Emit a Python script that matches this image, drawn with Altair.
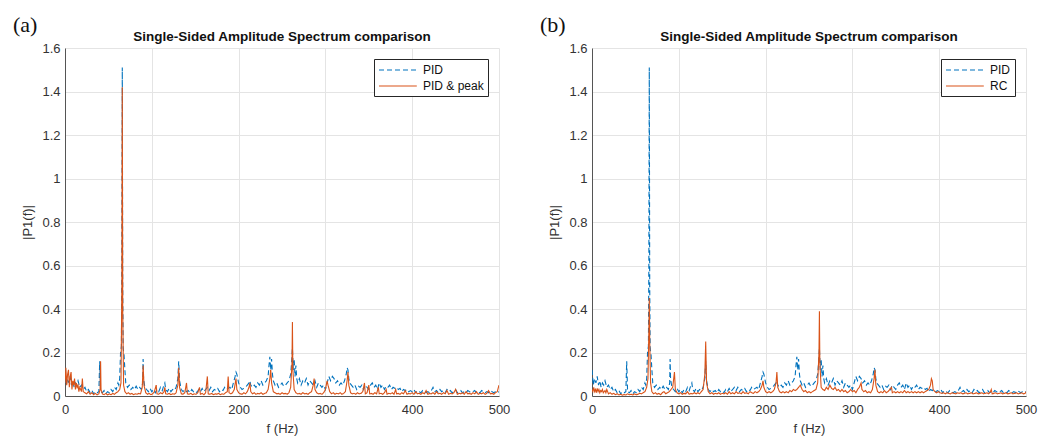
import altair as alt
import pandas as pd

# ---- data (frequency in Hz, amplitude |P1(f)|) ----
PID = [
    (0, 0.12), (1.5, 0.05), (3, 0.08), (4.5, 0.06), (6, 0.09), (7.5, 0.05), (9, 0.07), (10.5, 0.04),
    (12, 0.06), (13.5, 0.05), (15, 0.07), (17, 0.04), (19, 0.05), (21, 0.03), (23, 0.04), (25, 0.02),
    (27, 0.03), (29, 0.015), (31, 0.025), (33, 0.01), (35, 0.02), (37, 0.015), (39, 0.02), (40, 0.16),
    (41, 0.02), (43, 0.015), (45, 0.025), (47, 0.01), (49, 0.02), (51, 0.015), (53, 0.03), (55, 0.02),
    (57, 0.04), (59, 0.03), (61, 0.06), (62, 0.05), (63, 0.08), (64, 0.2), (65, 0.23), (65.5, 0.6),
    (66, 1.51), (66.5, 0.5), (67, 0.22), (68, 0.19), (69, 0.12), (70, 0.06), (72, 0.04), (74, 0.05),
    (76, 0.03), (78, 0.04), (80, 0.03), (82, 0.045), (84, 0.03), (86, 0.04), (88, 0.03), (89.5, 0.06),
    (90, 0.17), (90.5, 0.08), (92, 0.04), (94, 0.03), (96, 0.02), (98, 0.035), (100, 0.02), (102, 0.03),
    (104, 0.015), (106, 0.03), (108, 0.02), (110, 0.04), (112, 0.025), (114, 0.05), (115, 0.06), (116, 0.03),
    (118, 0.02), (120, 0.035), (122, 0.02), (124, 0.03), (126, 0.025), (128, 0.04), (130, 0.08), (131, 0.16),
    (132, 0.07), (134, 0.03), (136, 0.02), (138, 0.03), (140, 0.02), (142, 0.025), (144, 0.015), (146, 0.03),
    (148, 0.02), (150, 0.025), (152, 0.015), (154, 0.03), (156, 0.02), (158, 0.035), (160, 0.02), (162, 0.03),
    (164, 0.04), (166, 0.025), (168, 0.04), (170, 0.02), (172, 0.03), (174, 0.025), (176, 0.035), (178, 0.02),
    (180, 0.03), (182, 0.025), (184, 0.04), (186, 0.03), (188, 0.035), (190, 0.04), (192, 0.03), (194, 0.06),
    (196, 0.09), (197, 0.11), (198, 0.1), (200, 0.06), (202, 0.04), (204, 0.03), (206, 0.035), (208, 0.04),
    (210, 0.05), (212, 0.06), (213, 0.07), (214, 0.05), (216, 0.04), (218, 0.05), (220, 0.04), (222, 0.06),
    (224, 0.05), (226, 0.07), (228, 0.05), (230, 0.06), (232, 0.07), (234, 0.09), (235, 0.14), (236, 0.18),
    (237, 0.12), (238, 0.17), (239, 0.1), (240, 0.07), (242, 0.05), (244, 0.06), (246, 0.04), (248, 0.05),
    (250, 0.06), (252, 0.045), (254, 0.05), (256, 0.06), (258, 0.07), (260, 0.1), (261, 0.15), (262, 0.22),
    (263, 0.12), (264, 0.17), (265, 0.09), (266, 0.14), (267, 0.08), (268, 0.06), (270, 0.08), (272, 0.05),
    (274, 0.07), (276, 0.06), (278, 0.08), (280, 0.05), (282, 0.07), (284, 0.06), (286, 0.05), (288, 0.07),
    (290, 0.04), (292, 0.06), (294, 0.05), (296, 0.04), (298, 0.05), (300, 0.03), (302, 0.06), (304, 0.09),
    (306, 0.07), (308, 0.09), (310, 0.08), (312, 0.06), (314, 0.07), (316, 0.05), (318, 0.06), (320, 0.05),
    (322, 0.07), (324, 0.1), (325, 0.13), (326, 0.12), (327, 0.08), (328, 0.06), (330, 0.05), (332, 0.04),
    (334, 0.05), (336, 0.03), (338, 0.045), (340, 0.04), (342, 0.05), (344, 0.03), (346, 0.05), (348, 0.04),
    (350, 0.03), (352, 0.05), (354, 0.06), (356, 0.04), (358, 0.05), (360, 0.03), (362, 0.06), (364, 0.04),
    (366, 0.05), (368, 0.03), (370, 0.045), (372, 0.04), (374, 0.05), (376, 0.03), (378, 0.04), (380, 0.035),
    (382, 0.04), (384, 0.03), (386, 0.035), (388, 0.02), (390, 0.03), (392, 0.025), (394, 0.03), (396, 0.02),
    (398, 0.025), (400, 0.02), (402, 0.03), (404, 0.015), (406, 0.025), (408, 0.02), (410, 0.015), (412, 0.025),
    (414, 0.02), (416, 0.015), (418, 0.02), (420, 0.015), (422, 0.025), (424, 0.04), (426, 0.02), (428, 0.025),
    (430, 0.015), (432, 0.03), (434, 0.02), (436, 0.025), (438, 0.015), (440, 0.03), (442, 0.02), (444, 0.025),
    (446, 0.015), (448, 0.02), (450, 0.03), (452, 0.015), (454, 0.02), (456, 0.025), (458, 0.015), (460, 0.02),
    (462, 0.015), (464, 0.025), (466, 0.02), (468, 0.015), (470, 0.02), (472, 0.025), (474, 0.015), (476, 0.02),
    (478, 0.015), (480, 0.025), (482, 0.02), (484, 0.015), (486, 0.02), (488, 0.015), (490, 0.025), (492, 0.02),
    (494, 0.015), (496, 0.02), (498, 0.015), (500, 0.02),
]

PID_PEAK = [
    (0, 0.06), (1, 0.13), (2, 0.05), (3, 0.1), (4, 0.12), (5, 0.04), (6, 0.09), (7, 0.11), (8, 0.03),
    (9, 0.07), (10, 0.05), (11, 0.08), (12, 0.03), (13, 0.06), (14, 0.04), (15, 0.05), (16, 0.02), (17, 0.04),
    (18, 0.03), (19, 0.02), (20, 0.08), (21, 0.02), (23, 0.015), (25, 0.01), (27, 0.02), (29, 0.008),
    (31, 0.015), (33, 0.006), (35, 0.012), (37, 0.005), (39, 0.01), (40.5, 0.03), (41, 0.16), (41.5, 0.03),
    (43, 0.01), (45, 0.006), (47, 0.012), (49, 0.005), (51, 0.01), (53, 0.006), (55, 0.012), (57, 0.008),
    (59, 0.015), (61, 0.02), (63, 0.03), (64.5, 0.06), (65.5, 0.5), (66, 1.42), (66.5, 0.4), (67.5, 0.05),
    (69, 0.02), (71, 0.01), (73, 0.015), (75, 0.008), (77, 0.012), (79, 0.006), (81, 0.01), (83, 0.008),
    (85, 0.012), (87, 0.01), (89, 0.04), (90, 0.14), (91, 0.05), (93, 0.015), (95, 0.008), (97, 0.012),
    (99, 0.006), (101, 0.01), (103, 0.02), (105, 0.05), (106, 0.01), (108, 0.008), (110, 0.015), (112, 0.01),
    (114, 0.02), (115, 0.04), (116, 0.01), (118, 0.008), (120, 0.012), (122, 0.006), (124, 0.01), (126, 0.008),
    (128, 0.015), (130, 0.05), (131, 0.13), (132, 0.04), (134, 0.01), (136, 0.008), (138, 0.015), (140, 0.06),
    (141, 0.01), (143, 0.008), (145, 0.012), (147, 0.006), (149, 0.01), (151, 0.008), (153, 0.015), (155, 0.04),
    (156, 0.008), (158, 0.012), (160, 0.006), (162, 0.015), (164, 0.09), (165, 0.01), (167, 0.008), (169, 0.012),
    (171, 0.006), (173, 0.01), (175, 0.008), (177, 0.012), (179, 0.006), (181, 0.01), (183, 0.008), (185, 0.015),
    (187, 0.02), (188, 0.09), (189, 0.015), (191, 0.01), (193, 0.015), (195, 0.03), (197, 0.08), (198, 0.03),
    (200, 0.015), (202, 0.01), (204, 0.008), (206, 0.015), (208, 0.01), (210, 0.02), (212, 0.04), (213, 0.06),
    (214, 0.02), (216, 0.01), (218, 0.015), (220, 0.008), (222, 0.012), (224, 0.01), (226, 0.015), (228, 0.008),
    (230, 0.012), (232, 0.015), (234, 0.03), (236, 0.08), (237, 0.12), (238, 0.06), (240, 0.02), (242, 0.015),
    (244, 0.01), (246, 0.012), (248, 0.008), (250, 0.015), (252, 0.01), (254, 0.012), (256, 0.008), (258, 0.015),
    (260, 0.04), (261.5, 0.15), (262, 0.34), (262.5, 0.12), (264, 0.03), (266, 0.015), (268, 0.01), (270, 0.012),
    (272, 0.008), (274, 0.015), (276, 0.01), (278, 0.012), (280, 0.008), (282, 0.015), (284, 0.02), (286, 0.05),
    (287, 0.08), (288, 0.03), (290, 0.015), (292, 0.01), (294, 0.012), (296, 0.008), (298, 0.015), (300, 0.03),
    (302, 0.07), (303, 0.05), (305, 0.02), (307, 0.01), (309, 0.015), (311, 0.008), (313, 0.012), (315, 0.01),
    (317, 0.015), (319, 0.008), (321, 0.012), (323, 0.02), (325, 0.07), (326, 0.11), (327, 0.05), (329, 0.015),
    (331, 0.01), (333, 0.012), (335, 0.008), (337, 0.015), (339, 0.01), (341, 0.012), (343, 0.02), (345, 0.06),
    (346, 0.01), (348, 0.015), (350, 0.05), (351, 0.01), (353, 0.012), (355, 0.008), (357, 0.015), (359, 0.01),
    (361, 0.04), (362, 0.01), (364, 0.012), (366, 0.008), (368, 0.015), (370, 0.03), (371, 0.008), (373, 0.012),
    (375, 0.01), (377, 0.015), (379, 0.008), (381, 0.03), (382, 0.01), (384, 0.012), (386, 0.008), (388, 0.015),
    (390, 0.01), (392, 0.025), (394, 0.008), (396, 0.012), (398, 0.01), (400, 0.015), (402, 0.008), (404, 0.02),
    (406, 0.01), (408, 0.012), (410, 0.008), (412, 0.015), (414, 0.01), (416, 0.025), (418, 0.008), (420, 0.012),
    (422, 0.01), (424, 0.015), (426, 0.008), (428, 0.02), (430, 0.01), (432, 0.012), (434, 0.008), (436, 0.015),
    (438, 0.01), (440, 0.025), (442, 0.008), (444, 0.012), (446, 0.01), (448, 0.015), (450, 0.03), (452, 0.008),
    (454, 0.012), (456, 0.01), (458, 0.015), (460, 0.008), (462, 0.02), (464, 0.01), (466, 0.012), (468, 0.008),
    (470, 0.015), (472, 0.01), (474, 0.02), (476, 0.008), (478, 0.012), (480, 0.01), (482, 0.015), (484, 0.008),
    (486, 0.012), (488, 0.025), (490, 0.01), (492, 0.012), (494, 0.008), (496, 0.015), (498, 0.02), (500, 0.05),
]

RC = [
    (0, 0.03), (1, 0.02), (2, 0.04), (3, 0.02), (4, 0.03), (5, 0.015), (6, 0.035), (7, 0.02), (8, 0.03),
    (9, 0.015), (10, 0.025), (11, 0.02), (12, 0.03), (13, 0.015), (14, 0.02), (15, 0.025), (16, 0.015),
    (17, 0.03), (18, 0.02), (19, 0.01), (21, 0.015), (23, 0.008), (25, 0.012), (27, 0.006), (29, 0.01),
    (31, 0.005), (33, 0.008), (35, 0.004), (37, 0.007), (39, 0.005), (41, 0.01), (43, 0.006), (45, 0.008),
    (47, 0.005), (49, 0.01), (51, 0.006), (53, 0.008), (55, 0.012), (57, 0.01), (59, 0.015), (61, 0.02),
    (63, 0.04), (64.5, 0.08), (65.5, 0.3), (66, 0.45), (66.5, 0.25), (67.5, 0.06), (69, 0.02), (71, 0.01),
    (73, 0.015), (75, 0.008), (77, 0.012), (79, 0.006), (81, 0.015), (83, 0.02), (85, 0.01), (87, 0.015),
    (89, 0.02), (91, 0.03), (93, 0.04), (95, 0.11), (96, 0.03), (98, 0.015), (100, 0.01), (102, 0.015),
    (104, 0.008), (106, 0.012), (108, 0.01), (110, 0.02), (112, 0.008), (114, 0.012), (116, 0.01), (118, 0.015),
    (120, 0.01), (122, 0.015), (124, 0.01), (126, 0.02), (128, 0.03), (130, 0.1), (131, 0.25), (132, 0.06),
    (134, 0.02), (136, 0.01), (138, 0.015), (140, 0.008), (142, 0.012), (144, 0.01), (146, 0.015), (148, 0.008),
    (150, 0.012), (152, 0.01), (154, 0.015), (156, 0.008), (158, 0.02), (160, 0.01), (162, 0.015), (164, 0.01),
    (166, 0.02), (168, 0.012), (170, 0.015), (172, 0.01), (174, 0.02), (176, 0.012), (178, 0.015), (180, 0.01),
    (182, 0.02), (184, 0.015), (186, 0.012), (188, 0.02), (190, 0.015), (192, 0.02), (194, 0.03), (196, 0.05),
    (197, 0.07), (198, 0.04), (200, 0.02), (202, 0.015), (204, 0.02), (206, 0.015), (208, 0.02), (210, 0.03),
    (212, 0.06), (213, 0.11), (214, 0.04), (216, 0.02), (218, 0.015), (220, 0.02), (222, 0.015), (224, 0.02),
    (226, 0.015), (228, 0.025), (230, 0.02), (232, 0.03), (234, 0.025), (236, 0.03), (238, 0.04), (240, 0.05),
    (242, 0.03), (244, 0.02), (246, 0.025), (248, 0.015), (250, 0.02), (252, 0.015), (254, 0.02), (256, 0.025),
    (258, 0.03), (260, 0.06), (261.5, 0.2), (262, 0.39), (262.5, 0.15), (264, 0.04), (266, 0.03), (268, 0.025),
    (270, 0.04), (272, 0.03), (274, 0.05), (276, 0.035), (278, 0.03), (280, 0.04), (282, 0.025), (284, 0.03),
    (286, 0.02), (288, 0.03), (290, 0.02), (292, 0.025), (294, 0.015), (296, 0.02), (298, 0.03), (300, 0.02),
    (302, 0.025), (304, 0.015), (306, 0.03), (308, 0.04), (310, 0.06), (311, 0.03), (313, 0.02), (315, 0.025),
    (317, 0.015), (319, 0.02), (321, 0.015), (323, 0.03), (325, 0.08), (326, 0.12), (327, 0.05), (329, 0.02),
    (331, 0.015), (333, 0.02), (335, 0.015), (337, 0.025), (339, 0.015), (341, 0.02), (343, 0.03), (345, 0.04),
    (346, 0.015), (348, 0.02), (350, 0.015), (352, 0.02), (354, 0.015), (356, 0.02), (358, 0.015), (360, 0.025),
    (362, 0.015), (364, 0.02), (366, 0.015), (368, 0.02), (370, 0.015), (372, 0.02), (374, 0.015), (376, 0.02),
    (378, 0.015), (380, 0.02), (382, 0.015), (384, 0.02), (386, 0.025), (388, 0.03), (390, 0.05), (391, 0.08),
    (392, 0.07), (393, 0.03), (395, 0.02), (397, 0.015), (399, 0.02), (401, 0.015), (403, 0.012), (405, 0.015),
    (407, 0.01), (409, 0.015), (411, 0.012), (413, 0.01), (415, 0.015), (417, 0.012), (419, 0.01), (421, 0.015),
    (423, 0.012), (425, 0.015), (427, 0.01), (429, 0.012), (431, 0.015), (433, 0.01), (435, 0.012), (437, 0.015),
    (439, 0.01), (441, 0.012), (443, 0.015), (445, 0.01), (447, 0.012), (449, 0.015), (451, 0.01), (453, 0.012),
    (455, 0.015), (457, 0.01), (459, 0.02), (460, 0.03), (461, 0.01), (463, 0.012), (465, 0.015), (467, 0.01),
    (469, 0.012), (471, 0.015), (473, 0.01), (475, 0.012), (477, 0.015), (479, 0.01), (481, 0.012), (483, 0.015),
    (485, 0.01), (487, 0.012), (489, 0.015), (491, 0.01), (493, 0.012), (495, 0.015), (497, 0.01), (499, 0.012),
    (500, 0.02),
]

FREQ_TICKS = [0, 100, 200, 300, 400, 500]
AMP_TICKS = [0, 0.2, 0.4, 0.6, 0.8, 1.0, 1.2, 1.4, 1.6]
PANEL_LABELS = ["(a)", "(b)"]
SECOND_NAMES = ["PID & peak", "RC"]
TITLE = "Single-Sided Amplitude Spectrum comparison"
BLUE = "#0072BD"
ORANGE = "#D95319"
FONT = "Liberation Sans"
W, H = 434, 348


def frame(pairs, name):
    return pd.DataFrame({"f": [p[0] for p in pairs], "v": [p[1] for p in pairs], "series": name})


def panel(label, other_pairs, other_name):
    df = pd.concat([frame(PID, "PID"), frame(other_pairs, other_name)], ignore_index=True)
    domain = ["PID", other_name]
    legend = alt.Legend(
        title=None, orient="top-right", offset=11, padding=4,
        strokeColor="#262626", fillColor="white",
        labelFont=FONT, labelFontSize=12, labelColor="#111",
        symbolType="M-1,0H5.3", symbolSize=144, symbolStrokeWidth=1.2,
        labelOffset=31, columnPadding=0,
        rowPadding=3, labelLimit=200,
    )
    lines = alt.Chart(df).mark_line(strokeWidth=1.1, clip=True).encode(
        x=alt.X("f:Q", scale=alt.Scale(domain=[0, 500], nice=False, zero=False),
                axis=alt.Axis(values=FREQ_TICKS, title="f (Hz)", labelFlush=False,
                              labelPadding=7, titlePadding=6)),
        y=alt.Y("v:Q", scale=alt.Scale(domain=[0, 1.6], nice=False),
                axis=alt.Axis(values=AMP_TICKS, format="~g", title="|P1(f)|",
                              labelPadding=5, titlePadding=7)),
        color=alt.Color("series:N", scale=alt.Scale(domain=domain, range=[BLUE, ORANGE]), legend=legend),
        strokeDash=alt.StrokeDash("series:N", scale=alt.Scale(domain=domain, range=[[5, 3], [1, 0]]), legend=legend),
    )
    txt = pd.DataFrame({"tag": [label], "title": [TITLE]})
    tag = alt.Chart(txt).mark_text(
        align="left", baseline="alphabetic", font="Liberation Serif", fontSize=22, color="#111"
    ).encode(text="tag:N", x=alt.value(-52), y=alt.value(-16))
    head = alt.Chart(txt).mark_text(
        align="center", baseline="alphabetic", font=FONT, fontSize=13.5, fontWeight="bold", color="#111"
    ).encode(text="title:N", x=alt.value(W / 2), y=alt.value(-7))
    return alt.layer(lines, tag, head).properties(width=W, height=H)


chart = alt.hconcat(
    panel(PANEL_LABELS[0], PID_PEAK, SECOND_NAMES[0]),
    panel(PANEL_LABELS[1], RC, SECOND_NAMES[1]),
    spacing=30,
).resolve_scale(
    color="independent", strokeDash="independent"
).configure(
    background="white", padding={"left": 5, "top": 6, "right": 5, "bottom": 5}
).configure_view(
    stroke=None
).configure_axis(
    labelFont=FONT, labelFontSize=13, labelColor="#333",
    titleFont=FONT, titleFontSize=13, titleFontWeight="normal", titleColor="#333",
    grid=True, gridColor="#e4e4e4", gridWidth=1,
    domainColor="#555", domainWidth=1, ticks=False,
)

chart.save("out.html", embed_options={"renderer": "svg", "actions": False})
